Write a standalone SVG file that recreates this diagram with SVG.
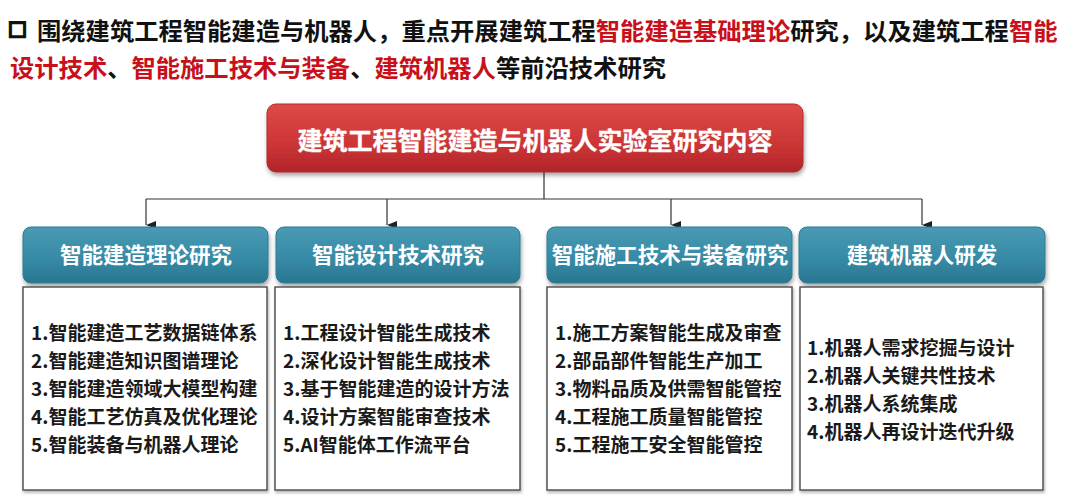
<svg xmlns="http://www.w3.org/2000/svg" width="1080" height="500" viewBox="0 0 1080 500">
<defs>
<linearGradient id="gRed" x1="0" y1="0" x2="0" y2="1">
<stop offset="0" stop-color="#de4a48"/>
<stop offset="0.6" stop-color="#cc3535"/>
<stop offset="1" stop-color="#b0242a"/>
</linearGradient>
<linearGradient id="gBlue" x1="0" y1="0" x2="0" y2="1">
<stop offset="0" stop-color="#4a9ab4"/>
<stop offset="0.6" stop-color="#3589a4"/>
<stop offset="1" stop-color="#2a7690"/>
</linearGradient>
<filter id="sh" x="-5%" y="-10%" width="110%" height="130%">
<feDropShadow dx="1" dy="3" stdDeviation="2" flood-color="#000" flood-opacity="0.35"/>
</filter>
<filter id="shw" x="-5%" y="-5%" width="110%" height="110%">
<feDropShadow dx="1" dy="2" stdDeviation="1.5" flood-color="#000" flood-opacity="0.3"/>
</filter>
<marker id="arr" markerWidth="8" markerHeight="10" refX="4" refY="10" orient="auto" markerUnits="userSpaceOnUse" viewBox="0 0 8 10">
<path d="M0,0 L8,0 L4,10 Z" fill="#222"/>
</marker>
<style>
text{font-family:"Noto Sans CJK SC","Noto Sans",sans-serif;font-weight:bold}
.title{font-size:24.3px;fill:#111}
.red{fill:#c8101a}
.hdr{font-size:25px;fill:#fff;stroke:#fff;stroke-width:0.3}
.sub{font-size:21.5px;fill:#fff}
.item{font-size:19px;fill:#1a1a1a}
.bx{fill:#fff;stroke:#555;stroke-width:1.5}
.conn{fill:none;stroke:#333;stroke-width:1.2}
</style>
</defs>
<rect width="1080" height="500" fill="#fff"/>
<g id="heading">
<text class="title" y="40"><tspan x="8" y="35" font-family="DejaVu Sans" font-size="20" stroke="#111" stroke-width="2">□</tspan><tspan x="37" y="40">围绕建筑工程智能建造与机器人，重点开展建筑工程</tspan><tspan class="red">智能建造基础理论</tspan><tspan>研究，以及建筑工程</tspan><tspan class="red">智能</tspan></text>
<text class="title" y="77" x="10"><tspan class="red">设计技术</tspan><tspan>、</tspan><tspan class="red">智能施工技术与装备</tspan><tspan>、</tspan><tspan class="red">建筑机器人</tspan><tspan>等前沿技术研究</tspan></text>
</g>
<g id="connectors">
<path class="conn" d="M544,172 V199"/>
<path class="conn" d="M146,199 H922"/>
<path class="conn" d="M146,199 V225" marker-end="url(#arr)"/>
<path class="conn" d="M387,199 V225" marker-end="url(#arr)"/>
<path class="conn" d="M671,199 V225" marker-end="url(#arr)"/>
<path class="conn" d="M922,199 V225" marker-end="url(#arr)"/>
</g>
<g id="root">
<rect x="267" y="104" width="536" height="68" rx="9" fill="url(#gRed)" stroke="#b02a2c" stroke-width="1" filter="url(#sh)"/>
<text class="hdr" x="535" y="149.5" text-anchor="middle">建筑工程智能建造与机器人实验室研究内容</text>
</g>
<g id="n1">
<rect x="23" y="227" width="245" height="56" rx="8" fill="url(#gBlue)" stroke="#2e7b94" stroke-width="1" filter="url(#sh)"/>
<text class="sub" x="146" y="263" text-anchor="middle">智能建造理论研究</text>
<rect class="bx" x="23" y="287" width="244" height="203" filter="url(#shw)"/>
<text class="item" x="31" y="340">1.智能建造工艺数据链体系</text>
<text class="item" x="31" y="368">2.智能建造知识图谱理论</text>
<text class="item" x="31" y="396">3.智能建造领域大模型构建</text>
<text class="item" x="31" y="424">4.智能工艺仿真及优化理论</text>
<text class="item" x="31" y="452">5.智能装备与机器人理论</text>
</g>
<g id="n2">
<rect x="276" y="227" width="244" height="56" rx="8" fill="url(#gBlue)" stroke="#2e7b94" stroke-width="1" filter="url(#sh)"/>
<text class="sub" x="398" y="263" text-anchor="middle">智能设计技术研究</text>
<rect class="bx" x="275" y="287" width="245" height="203" filter="url(#shw)"/>
<text class="item" x="283" y="340">1.工程设计智能生成技术</text>
<text class="item" x="283" y="368">2.深化设计智能生成技术</text>
<text class="item" x="283" y="396">3.基于智能建造的设计方法</text>
<text class="item" x="283" y="424">4.设计方案智能审查技术</text>
<text class="item" x="283" y="452">5.AI智能体工作流平台</text>
</g>
<g id="n3">
<rect x="547" y="227" width="245" height="56" rx="8" fill="url(#gBlue)" stroke="#2e7b94" stroke-width="1" filter="url(#sh)"/>
<text class="sub" x="670" y="263" text-anchor="middle">智能施工技术与装备研究</text>
<rect class="bx" x="547" y="287" width="245" height="203" filter="url(#shw)"/>
<text class="item" x="555" y="340">1.施工方案智能生成及审查</text>
<text class="item" x="555" y="368">2.部品部件智能生产加工</text>
<text class="item" x="555" y="396">3.物料品质及供需智能管控</text>
<text class="item" x="555" y="424">4.工程施工质量智能管控</text>
<text class="item" x="555" y="452">5.工程施工安全智能管控</text>
</g>
<g id="n4">
<rect x="799" y="227" width="246" height="56" rx="8" fill="url(#gBlue)" stroke="#2e7b94" stroke-width="1" filter="url(#sh)"/>
<text class="sub" x="922" y="263" text-anchor="middle">建筑机器人研发</text>
<rect class="bx" x="800" y="287" width="243" height="203" filter="url(#shw)"/>
<text class="item" x="807" y="355">1.机器人需求挖掘与设计</text>
<text class="item" x="807" y="383">2.机器人关键共性技术</text>
<text class="item" x="807" y="411">3.机器人系统集成</text>
<text class="item" x="807" y="439">4.机器人再设计迭代升级</text>
</g>
</svg>
